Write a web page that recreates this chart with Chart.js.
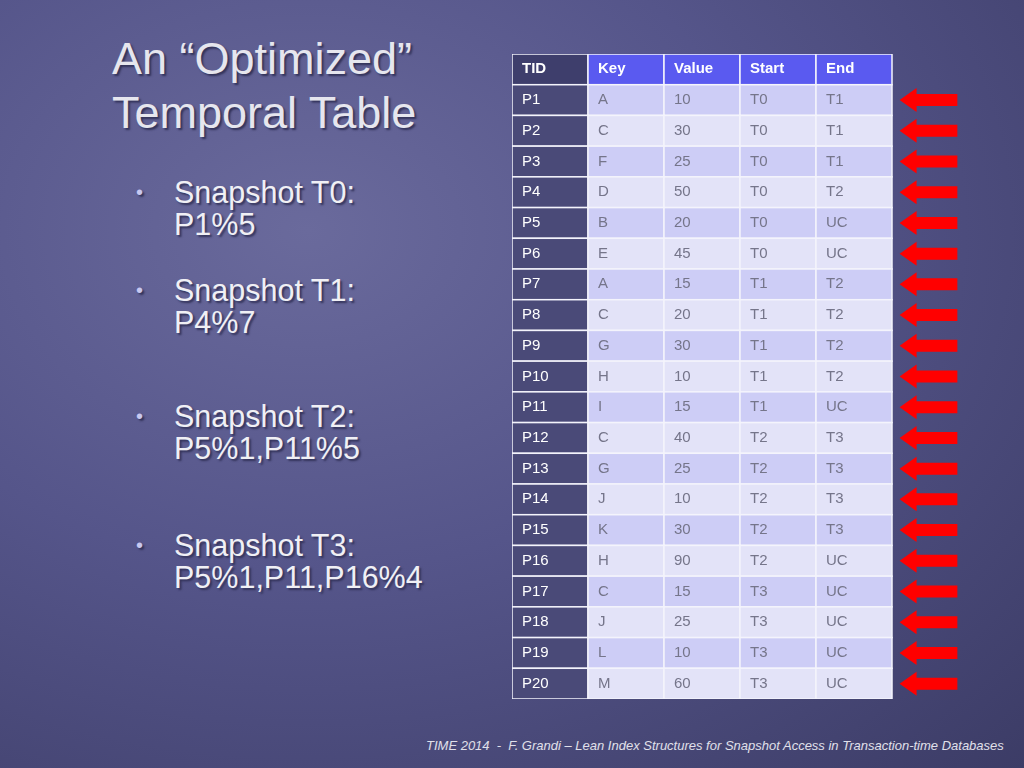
<!DOCTYPE html>
<html><head><meta charset="utf-8">
<script src="https://cdn.jsdelivr.net/npm/chart.js@4"></script>
<style>
body{margin:0;width:1024px;height:768px;overflow:hidden;font-family:"Liberation Sans",Arial,sans-serif;
background:radial-gradient(ellipse at 30% 30%,#6a6a9c 0%,#55558a 45%,#3c3c66 100%);position:relative}
h1{position:absolute;left:112px;top:32px;margin:0;font-weight:normal;font-size:45px;line-height:54px;color:#e6e6ee;text-shadow:2px 2px 2px #33335a}
.b{position:absolute;left:136px;color:#f0f0f5;font-size:30.5px;line-height:32px;text-shadow:2px 2px 2px #33335a}
.b span{position:absolute;left:0;font-size:20px;color:#c8c8f0}
.b div{margin-left:38px}
#foot{position:absolute;left:426px;top:738px;font-size:13px;font-style:italic;color:#e0e0ea}
#wrap{position:absolute;left:512px;top:54px;width:460px;height:645px}
</style></head><body>
<h1>An “Optimized”<br>Temporal Table</h1>
<div class="b" style="top:176px"><span>•</span><div>Snapshot T0:<br>P1%5</div></div>
<div class="b" style="top:274px"><span>•</span><div>Snapshot T1:<br>P4%7</div></div>
<div class="b" style="top:400px"><span>•</span><div>Snapshot T2:<br>P5%1,P11%5</div></div>
<div class="b" style="top:529px"><span>•</span><div>Snapshot T3:<br>P5%1,P11,P16%4</div></div>
<div id="foot">TIME 2014 &nbsp;- &nbsp;F. Grandi – Lean Index Structures for Snapshot Access in Transaction-time Databases</div>
<div id="wrap"><canvas id="chart"></canvas></div>
<script>
const headers = ['TID', 'Key', 'Value', 'Start', 'End'];
const tids = ['P1','P2','P3','P4','P5','P6','P7','P8','P9','P10','P11','P12','P13','P14','P15','P16','P17','P18','P19','P20'];
const keys = ['A','C','F','D','B','E','A','C','G','H','I','C','G','J','K','H','C','J','L','M'];
const values = [10,30,25,50,20,45,15,20,30,10,15,40,25,10,30,90,15,25,10,60];
const starts = ['T0','T0','T0','T0','T0','T0','T1','T1','T1','T1','T1','T2','T2','T2','T2','T2','T3','T3','T3','T3'];
const ends = ['T1','T1','T1','T2','UC','UC','T2','T2','T2','T2','UC','T3','T3','T3','T3','UC','UC','UC','UC','UC'];

const tablePlugin = {
  id: 'table',
  afterDraw(chart) {
    const { ctx, scales: { x, y } } = chart;
    const cols = [tids, keys, values, starts, ends];
    const cell = (c, r, fill, text, color, bold) => {
      const x0 = x.getPixelForValue(c), x1 = x.getPixelForValue(c + 1);
      const y0 = y.getPixelForValue(r), y1 = y.getPixelForValue(r + 1);
      ctx.fillStyle = fill;
      ctx.fillRect(x0, y0, x1 - x0, y1 - y0);
      ctx.strokeStyle = '#f4f4fc';
      ctx.lineWidth = 1.5;
      ctx.strokeRect(x0, y0, x1 - x0, y1 - y0);
      ctx.fillStyle = color;
      ctx.font = (bold ? 'bold ' : '') + '15px "Liberation Sans", Arial';
      ctx.textBaseline = 'middle';
      ctx.fillText(text, x0 + 10, (y0 + y1) / 2);
    };
    ctx.save();
    headers.forEach((h, c) => cell(c, 0, c === 0 ? '#3e3e6c' : '#5a5af0', h, '#ffffff', true));
    tids.forEach((_, r) => {
      cols.forEach((col, c) => {
        const fill = c === 0 ? '#4a4a78' : (r % 2 === 0 ? '#cdcdf6' : '#e3e3f8');
        cell(c, r + 1, fill, String(col[r]), c === 0 ? '#ffffff' : '#75758a', false);
      });
      // arrow
      const ax0 = x.getPixelForValue(5.1), ax1 = x.getPixelForValue(5.86);
      const yc = (y.getPixelForValue(r + 1) + y.getPixelForValue(r + 2)) / 2;
      ctx.fillStyle = '#ff0000';
      ctx.beginPath();
      ctx.moveTo(ax0, yc);
      ctx.lineTo(ax0 + 17, yc - 12);
      ctx.lineTo(ax0 + 17, yc - 6);
      ctx.lineTo(ax1, yc - 6);
      ctx.lineTo(ax1, yc + 6);
      ctx.lineTo(ax0 + 17, yc + 6);
      ctx.lineTo(ax0 + 17, yc + 12);
      ctx.closePath();
      ctx.fill();
    });
    ctx.restore();
  }
};

new Chart(document.getElementById('chart').getContext('2d'), {
  type: 'scatter',
  data: { datasets: [{ data: [], pointRadius: 0 }] },
  options: {
    responsive: true, maintainAspectRatio: false, animation: false,
    layout: { padding: 0 },
    plugins: { legend: { display: false }, tooltip: { enabled: false } },
    scales: {
      x: { type: 'linear', min: 0, max: 460 / 76, display: false },
      y: { type: 'linear', min: 0, max: 21, reverse: true, display: false }
    }
  },
  plugins: [tablePlugin]
});
</script>
</body></html>
